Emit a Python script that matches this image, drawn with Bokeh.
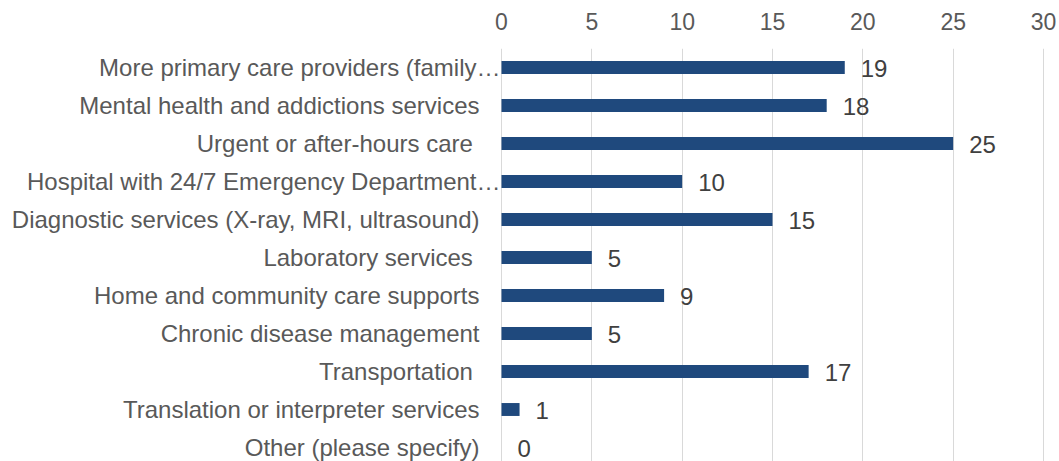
from bokeh.plotting import figure
from bokeh.models import Range1d, FixedTicker, ColumnDataSource
from bokeh.core.properties import value
from bokeh.embed import file_html
from bokeh.resources import INLINE

categories = [
    "More primary care providers (family…",
    "Mental health and addictions services",
    "Urgent or after-hours care ",
    "Hospital with 24/7 Emergency Department…",
    "Diagnostic services (X-ray, MRI, ultrasound)",
    "Laboratory services ",
    "Home and community care supports",
    "Chronic disease management",
    "Transportation ",
    "Translation or interpreter services",
    "Other (please specify)",
]
counts = [19, 18, 25, 10, 15, 5, 9, 5, 17, 1, 0]
x_ticks = [0, 5, 10, 15, 20, 25, 30]

W, H = 1059, 461
zero_px = 501.0
px_per_unit = 542.0 / 30.0
top_px = 48.0
row_px = 38.0

x_start = -zero_px / px_per_unit
x_end = (W - zero_px) / px_per_unit
y_top = -0.5
y_bottom = -0.5 + (H - top_px) / row_px

p = figure(width=W, height=H, output_backend="svg", toolbar_location=None,
           x_range=Range1d(x_start, x_end), y_range=Range1d(y_bottom, y_top),
           x_axis_location="above", y_axis_location=None,
           min_border_left=0, min_border_right=0, min_border_bottom=0,
           min_border_top=int(top_px))
p.outline_line_color = None
p.background_fill_color = "white"
p.border_fill_color = "white"

idx = list(range(len(categories)))
src = ColumnDataSource(dict(
    y=idx, cat=categories, val=counts,
    lbl=[str(v) for v in counts],
    zero=[0] * len(counts),
    cat_off=[-1 if c.endswith("…") else -22 for c in categories],
))

ax = p.xaxis[0]
ax.ticker = FixedTicker(ticks=x_ticks)
ax.axis_line_color = None
ax.major_tick_line_color = None
ax.minor_tick_line_color = None
ax.major_tick_out = 0
ax.major_tick_in = 0
ax.major_label_standoff = 19
ax.major_label_text_font = "Liberation Sans"
ax.major_label_text_font_size = "23px"
ax.major_label_text_color = "#595959"

p.xgrid.ticker = FixedTicker(ticks=x_ticks)
p.xgrid.grid_line_color = "#D9D9D9"
p.xgrid.grid_line_width = 1
p.ygrid.grid_line_color = None

p.hbar(y="y", left="zero", right="val", height=0.34, source=src,
       fill_color="#1F497D", line_color=None)

p.text(x="zero", y="y", text="cat", source=src, x_offset="cat_off",
       text_align="right", text_baseline="middle",
       text_font=value("Liberation Sans"), text_font_size="24px",
       text_color="#595959")

p.text(x="val", y="y", text="lbl", source=src, x_offset=16, y_offset=1,
       text_align="left", text_baseline="middle",
       text_font=value("Liberation Sans"), text_font_size="24px",
       text_color="#404040")

open("out.html", "w").write(file_html(p, INLINE))
